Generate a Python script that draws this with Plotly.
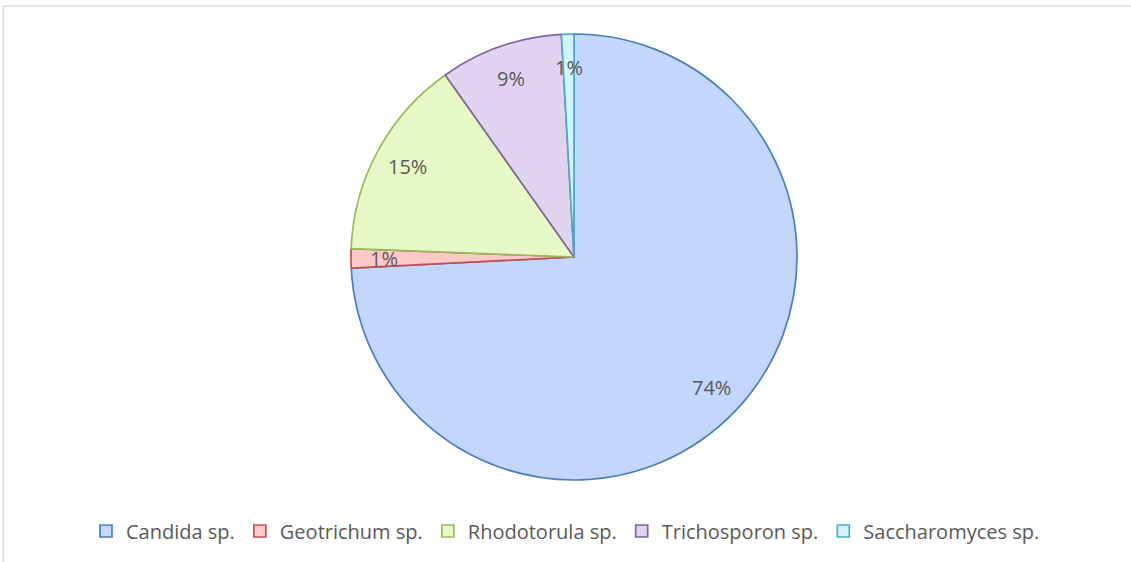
import math
import plotly.graph_objects as go

categories = ["Candida sp.", "Geotrichum sp.", "Rhodotorula sp.", "Trichosporon sp.", "Saccharomyces sp."]
values = [74.2, 1.4, 14.6, 8.9, 0.9]
fill_colors = ["#c3d6fc", "#ffc9c9", "#e6f9c6", "#e0d4f0", "#d3f3fa"]
line_colors = ["#4a7ebb", "#c0504d", "#9bbb59", "#8064a2", "#4bacc6"]

W, H = 1131, 562
cx, cy, R = 574, 257, 223
FONT = "Open Sans"

fig = go.Figure()
fig.add_trace(go.Pie(
    labels=categories,
    values=values,
    sort=False,
    direction="clockwise",
    rotation=0,
    textinfo="none",
    hoverinfo="label+percent",
    marker=dict(colors=fill_colors, line=dict(color=line_colors, width=1.7)),
    domain=dict(x=[(cx - R) / W, (cx + R) / W], y=[1 - (cy + R) / H, 1 - (cy - R) / H]),
))

# percentage labels placed inside the slices, from the data
total = sum(values)
cum = 0.0
annotations = []
for v in values:
    mid = (cum + v / 2) / total * 2 * math.pi
    cum += v
    r = 0.85 * R
    x = cx + r * math.sin(mid)
    y = cy - r * math.cos(mid)
    annotations.append(dict(
        x=x / W, y=1 - y / H, xref="paper", yref="paper",
        text=f"{round(v / total * 100)}%", showarrow=False,
        font=dict(size=20, color="#595959", family=FONT),
        xanchor="center", yanchor="middle",
    ))

fig.update_layout(
    width=W, height=H,
    margin=dict(l=0, r=0, t=0, b=0),
    paper_bgcolor="white",
    plot_bgcolor="white",
    font=dict(family=FONT, color="#595959"),
    showlegend=True,
    legend=dict(
        orientation="h", x=0.5, xanchor="center", y=1 - 531 / H, yanchor="middle",
        font=dict(size=20, color="#595959", family=FONT),
        itemwidth=30, traceorder="normal",
    ),
    annotations=annotations,
    shapes=[dict(
        type="rect", xref="paper", yref="paper",
        x0=3.5 / W, x1=1.05, y0=-0.05, y1=1 - 6 / H,
        line=dict(color="#d9d9d9", width=1.5), fillcolor="rgba(0,0,0,0)", layer="below",
    )],
)

fig.write_html(
    "out.html",
    config={"displayModeBar": False},
    post_script="document.body.style.margin='0px';document.body.style.overflow='hidden';",
)
